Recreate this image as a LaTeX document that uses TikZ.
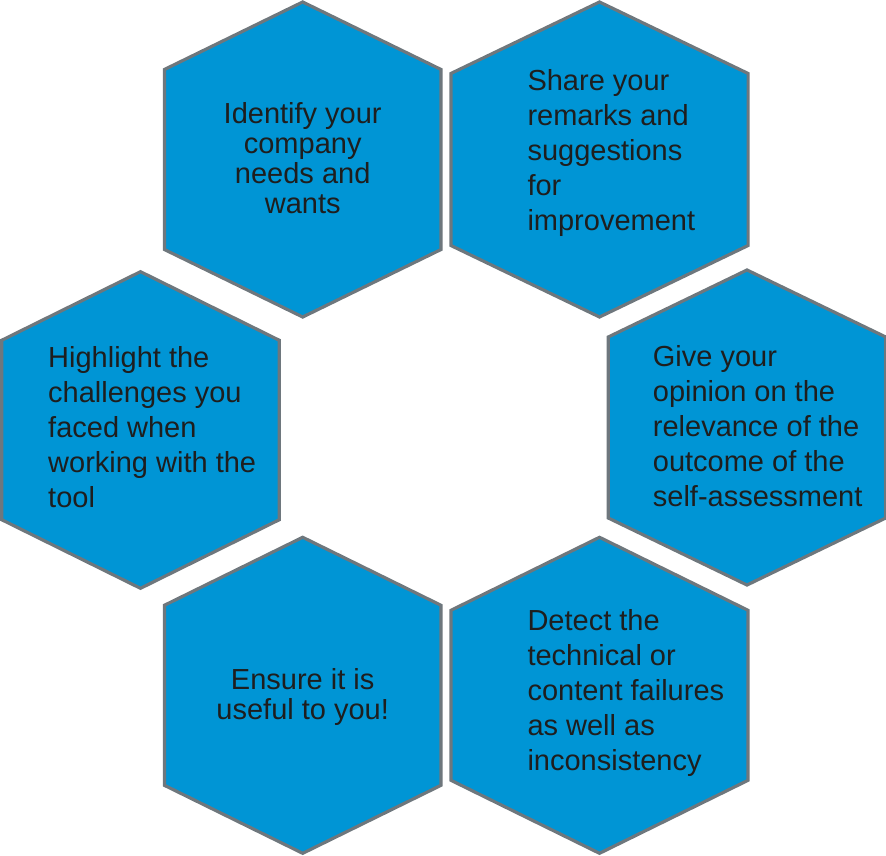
\documentclass[tikz,border=0pt]{standalone}
\usepackage{fontspec}
\setmainfont{Liberation Sans}
\definecolor{hexblue}{HTML}{0095D5}
\definecolor{hexgray}{HTML}{6E777D}
\definecolor{txt}{HTML}{1E1E1E}
\newcommand{\hexa}[6]{% name, cx, cy, hw, shoulder, top
  \draw[hexstyle] ({#2},{#3-#6}) -- ({#2+#4},{#3-#5}) -- ({#2+#4},{#3+#5})
    -- ({#2},{#3+#6}) -- ({#2-#4},{#3+#5}) -- ({#2-#4},{#3-#5}) -- cycle;
  \coordinate (#1) at ({#2},{#3});}
\begin{document}
\begin{tikzpicture}[x=1pt,y=-1pt,
  hexstyle/.style={fill=hexblue,draw=hexgray,line width=3.2pt,line join=miter},
  lbl/.style={inner sep=0pt,text=txt,font=\fontsize{29}{35}\selectfont,align=left,anchor=north west},
  clbl/.style={inner sep=0pt,text=txt,font=\fontsize{29}{30}\selectfont,align=center,anchor=north}]
\useasboundingbox (0,0) rectangle (886,856);
\hexa{h1}{302.7}{159.5}{138.3}{90}{157.5}
\hexa{h2}{599.5}{159.5}{148.6}{86}{157.5}
\hexa{h3}{140.5}{430}{138.8}{89.7}{158.3}
\hexa{h4}{747}{427.5}{138.7}{90.5}{157.5}
\hexa{h5}{302.7}{695.3}{138.3}{90}{158}
\hexa{h6}{599.5}{695.3}{148.5}{85}{158}
\node[clbl] (t1) at (302.7,101.8) {Identify your\\company\\needs and\\wants};
\node[lbl] (t2) at (527.3,69.5) {Share your\\remarks and\\suggestions\\for\\improvement};
\node[lbl] (t3) at (48,345.8) {Highlight the\\challenges you\\faced when\\working with the\\tool};
\node[lbl] (t4) at (652.7,344.8) {Give your\\opinion on the\\relevance of the\\outcome of the\\self-assessment};
\node[clbl] (t5) at (302.7,667.8) {Ensure it is\\useful to you!};
\node[lbl] (t6) at (527.3,609.5) {Detect the\\technical or\\content failures\\as well as\\inconsistency};
\end{tikzpicture}
\end{document}
